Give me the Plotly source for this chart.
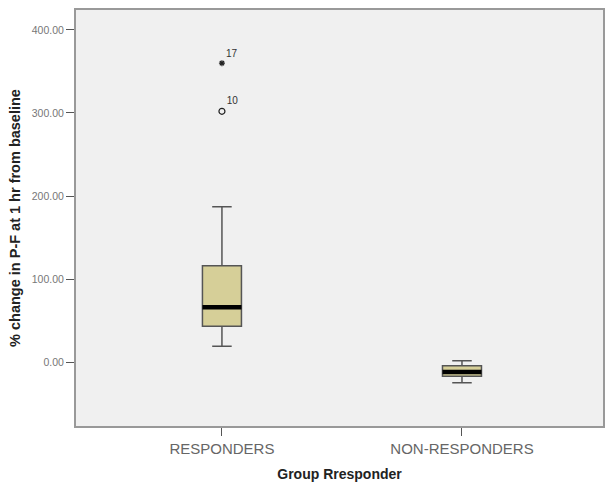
import plotly.graph_objects as go

categories = ["RESPONDERS", "NON-RESPONDERS"]
positions = [0, 1]
q1 = [43, -17]
median = [66, -12]
q3 = [116, -4.5]
lower_fence = [19, -25]
upper_fence = [187, 1.5]

outlier_pos = [0, 0]
outlier_vals = [360, 302]
outlier_labels = ["17", "10"]
outlier_symbols = ["asterisk-open", "circle-open"]

y_tickvals = [0, 100, 200, 300, 400]
y_ticktext = ["0.00", "100.00", "200.00", "300.00", "400.00"]

BOX_W = 0.1625
FILL = "#d6cf98"
EDGE = "#555555"

fig = go.Figure()
fig.add_trace(go.Box(
    x=positions, q1=q1, median=median, q3=q3,
    lowerfence=lower_fence, upperfence=upper_fence,
    width=BOX_W, whiskerwidth=0.5, boxpoints=False,
    fillcolor=FILL, line=dict(color=EDGE, width=1.5),
    showlegend=False, hoverinfo="skip",
))
for p, m in zip(positions, median):
    fig.add_trace(go.Scatter(
        x=[p - BOX_W / 2, p + BOX_W / 2], y=[m, m], mode="lines",
        line=dict(color="black", width=4.5), showlegend=False, hoverinfo="skip",
    ))
for p, v, lab, sym in zip(outlier_pos, outlier_vals, outlier_labels, outlier_symbols):
    fig.add_trace(go.Scatter(
        x=[p], y=[v], mode="markers+text", text=[lab],
        textposition="top right",
        textfont=dict(family="Liberation Sans", size=10, color="#333"),
        marker=dict(symbol=sym, size=6 if sym.startswith("circle") else 5,
                    color="#222", line=dict(width=1.2, color="#222")),
        showlegend=False, hoverinfo="skip",
    ))

fig.update_layout(
    width=605, height=483,
    margin=dict(l=76, r=2, t=10, b=57),
    paper_bgcolor="white", plot_bgcolor="#f0f0f0",
    font=dict(family="Liberation Sans", color="#555"),
)
fig.update_xaxes(
    range=[-0.608, 1.5875], tickvals=positions, ticktext=categories,
    ticks="outside", ticklen=8, tickcolor="#555", tickwidth=1,
    tickfont=dict(size=15, color="#666"),
    showgrid=False, zeroline=False, automargin=False,
    showline=True, linecolor="#999", linewidth=2, mirror=True,
    title=dict(text="<b>Group Rresponder</b>", font=dict(size=14, color="#222"), standoff=13),
)
fig.update_yaxes(
    range=[-77, 424], tickvals=y_tickvals, ticktext=y_ticktext,
    ticks="outside", ticklen=8, tickcolor="#555", tickwidth=1,
    tickfont=dict(size=10.5, color="#777"),
    showgrid=False, zeroline=False, automargin=False,
    showline=True, linecolor="#999", linewidth=2, mirror=True,
    title=dict(text="<b>% change in P-F at 1 hr from baseline</b>",
               font=dict(size=14.5, color="#222"), standoff=8),
)

fig.write_html(
    "out.html",
    config={"responsive": False, "displayModeBar": False},
    post_script="document.body.style.margin='0';document.body.style.overflow='hidden';",
)
